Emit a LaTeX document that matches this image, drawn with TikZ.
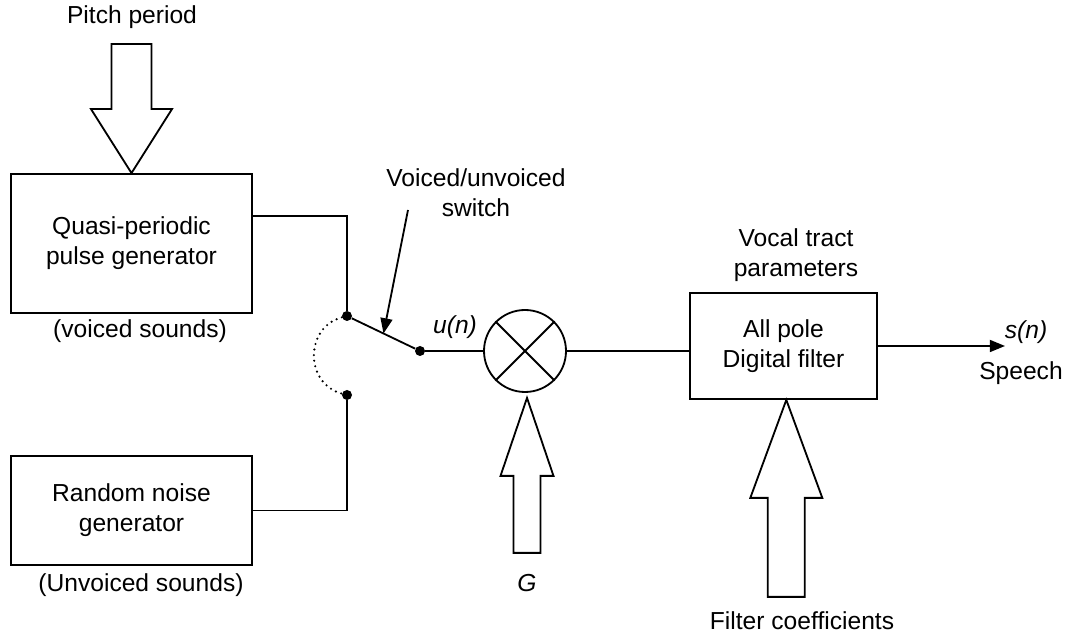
\documentclass[tikz,border=0pt]{standalone}
\usepackage{fontspec}
\setmainfont{Liberation Sans}
\usepackage{tikz}
\usetikzlibrary{arrows.meta, positioning, calc}
\newcommand{\diafont}{\fontsize{17.5}{21.5}\selectfont}
\tikzset{
  block/.style={rectangle, draw=black, line width=1.3pt,
                align=center, font=\diafont},
  label/.style={align=center, font=\diafont},
  contact/.style={circle, fill=black, inner sep=0pt, minimum size=0.25cm},
  mixer/.style={circle, draw=black, line width=1.3pt,
                inner sep=0pt, minimum size=2.05cm},
  wire/.style={line width=1.3pt},
  blockarrow/.style={draw=black, fill=white, line width=1.3pt,
                     line join=miter},
  tiparrow/.style={line width=1.3pt,
                   -{Triangle[length=0.38cm, width=0.3cm]}},
}

\begin{document}
\begin{tikzpicture}
    \useasboundingbox (0,0) rectangle (26.8,15.975);
    %% sources
    \node[block, minimum width=6.025cm, minimum height=3.475cm]
         (qpg) at (3.2875,9.8875) {Quasi-periodic\\pulse generator};
    \node[block, minimum width=6.025cm, minimum height=2.725cm]
         (rng) at (3.2875,3.2125) {Random noise\\generator};
    \node[label] (pitch) at (3.3,15.55) {Pitch period};
    \node[label] (vs)  at (3.5,7.7)   {(voiced sounds)};
    \node[label] (uvs) at (3.525,1.35) {(Unvoiced sounds)};
    %% switch contacts
    \node[contact] (s1) at (8.675,8.075) {};
    \node[contact] (s2) at (8.675,6.1)   {};
    \node[contact] (s3) at (10.5,7.2)    {};
    \node[label] (swl) at (11.9,11.15) {Voiced/unvoiced\\switch};
    \coordinate (swa) at (10.2,10.725);
    %% gain and filter
    \node[mixer] (mix) at (13.125,7.2) {};
    \node[label] (un) at (11.375,7.8) {\textit{u(n)}};
    \node[label] (g)  at (13.175,1.4) {\textit{G}};
    \node[block, minimum width=4.675cm, minimum height=2.65cm]
         (filt) at (19.5875,7.325) {All pole\\Digital filter};
    \node[label] (vtp) at (19.9,9.6)  {Vocal tract\\parameters};
    \node[label] (fc)  at (20.05,0.45) {Filter coefficients};
    \coordinate (out) at (25.125,7.325);
    \node[label] (sn) at (25.65,7.675) {\textit{s(n)}};
    \node[label] (sp) at (25.525,6.65) {Speech};
    %% wires
    \draw[wire] (qpg.east) ++(0,0.69) -| (s1);
    \draw[wire] (rng.east) -| (s2);
    \draw[wire] (s1) -- (s3);
    \draw[line width=1.7pt, dash pattern=on 0pt off 4pt, line cap=round]
         (s1) to[bend right=75, looseness=1.3] (s2);
    \draw[tiparrow] (swa) -- ($(s1)!0.5!(s3)$);
    \draw[wire] (s3) -- (mix.west);
    \draw[wire] (mix.north west) -- (mix.south east)
                (mix.north east) -- (mix.south west);
    \draw[wire] (mix.east) -- (mix.east -| filt.west);
    \draw[tiparrow] (filt.east) -- (out);
    %% hollow input arrows
    \draw[blockarrow] (qpg.north) -- ++(-1.0125,1.6) -- ++(0.5125,0)
         -- ++(0,1.625) -- ++(1,0) -- ++(0,-1.625) -- ++(0.5125,0) -- cycle;
    \draw[blockarrow] ($(mix.south)+(0.05,-0.125)$) -- ++(0.6625,-1.95)
         -- ++(-0.325,0) -- ++(0,-1.925) -- ++(-0.675,0) -- ++(0,1.925)
         -- ++(-0.325,0) -- cycle;
    \draw[blockarrow] ($(filt.south)+(0.07,0)$) -- ++(0.9,-2.45)
         -- ++(-0.4375,0) -- ++(0,-2.475) -- ++(-0.925,0) -- ++(0,2.475)
         -- ++(-0.4375,0) -- cycle;
\end{tikzpicture}
\end{document}
